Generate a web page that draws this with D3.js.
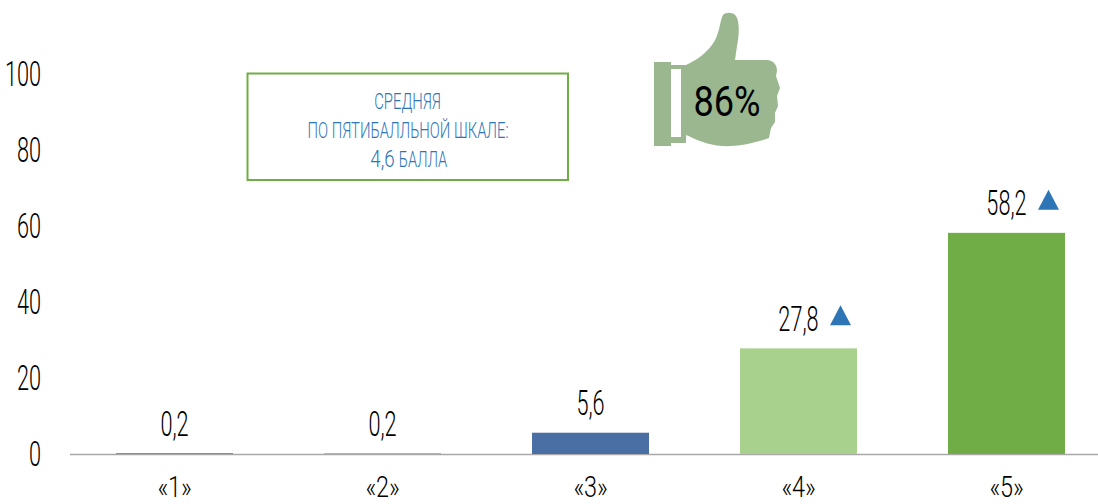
<!DOCTYPE html>
<html><head><meta charset="utf-8">
<script src="https://cdn.jsdelivr.net/npm/d3@7"></script>
<style>html,body{margin:0;padding:0;background:#fff}svg{display:block}text{font-family:Roboto,"Liberation Sans",sans-serif}</style>
</head><body><div id="c"></div>
<script>
const categories=["«1»","«2»","«3»","«4»","«5»"];
const values=[0.2,0.2,5.6,27.8,58.2];
const valueLabels=["0,2","0,2","5,6","27,8","58,2"];
const barColors=["#7f6a6a","#a89f9f","#4a6fa5","#a9d18e","#70ad47"];
const rising=[false,false,false,true,true];
const yTicks=[0,20,40,60,80,100];

const W=1098,H=504,base=454;
const svg=d3.select("#c").append("svg").attr("width",W).attr("height",H);
const x=d3.scaleBand().domain(categories).range([70.5,1110.5]).paddingInner(91/208).paddingOuter(91/416);
const y=d3.scaleLinear().domain([0,100]).range([base,74]);
function label(g,txt,px,py,size,anchor,fill,sx){
  return g.append("text").attr("transform",`translate(${px},${py}) scale(${sx||0.62},1)`)
    .attr("text-anchor",anchor).attr("font-size",size).attr("font-weight",300)
    .attr("fill",fill||"#000").text(txt);
}
// y tick labels
const gy=svg.append("g");
yTicks.forEach(t=>label(gy,String(t),41,y(t)+12,35,"end"));
// axis line
svg.append("line").attr("x1",70).attr("x2",W).attr("y1",base+.5).attr("y2",base+.5).attr("stroke","#aaa7a7").attr("stroke-width",1.5);
// bars
svg.selectAll("rect.bar").data(values).join("rect").attr("class","bar")
  .attr("x",(d,i)=>x(categories[i])).attr("width",x.bandwidth())
  .attr("y",d=>y(d)).attr("height",d=>base-y(d)).attr("fill",(d,i)=>barColors[i]);
// labels
const gl=svg.append("g");
values.forEach((v,i)=>{
  const cx=x(categories[i])+x.bandwidth()/2;
  label(gl,valueLabels[i],cx,y(v)-17.5,35,"middle");
  label(gl,categories[i],cx,497,30,"middle",null,0.78);
  if(rising[i]){
    const tx=cx+42,ty=y(v)-33;
    gl.append("path").attr("d",d3.line()([[tx-10.5,ty+10],[tx,ty-10],[tx+10.5,ty+10]])+"Z").attr("fill","#2e75b6");
  }
});
// annotation box
const box=svg.append("g");
box.append("rect").attr("x",247.5).attr("y",73.5).attr("width",320.5).attr("height",106.5).attr("fill","#fff").attr("stroke","#70ad47").attr("stroke-width",2);
const blue="#2e75b6";
label(box,"СРЕДНЯЯ",407.5,109,21.5,"middle",blue,0.69);
label(box,"ПО ПЯТИБАЛЛЬНОЙ ШКАЛЕ:",408,138,21.5,"middle",blue,0.69);
label(box,"4,6",382.5,167,24,"middle",blue,0.78);
label(box,"БАЛЛА",423,167,21.5,"middle",blue,0.68);
// thumb icon
const thumb=svg.append("g").attr("fill","#9ab78f");
thumb.append("path").attr("d","M654 62H671V65L686 65C697 60 707 53 714 42C720 32 720 20 723 15C726 12 733 12 736 16C740 22 739 36 737 46L735 60H768C773 61 777 64 777 71L776 76L780 88L777 96L778 106L775 113L775 122L771 128L769 138C755 143 735 147 722 146C708 145 697 140 686 135V143H671V146H654Z");
thumb.append("rect").attr("x",671).attr("y",69).attr("width",10).attr("height",68).attr("fill","#fff");
thumb.append("text").attr("transform","translate(727,116) scale(0.86,1)").attr("text-anchor","middle").attr("font-size",42).attr("font-weight",400).attr("fill","#000").text("86%");
</script></body></html>
